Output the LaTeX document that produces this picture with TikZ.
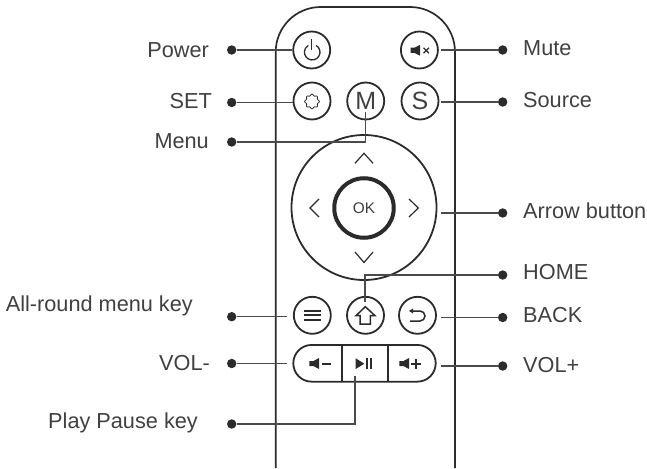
\documentclass[tikz,border=0pt]{standalone}
\usepackage{fontspec}
\setmainfont{Liberation Sans}
\definecolor{ink}{HTML}{2B2B2B}
\definecolor{lead}{HTML}{4A4A4A}
\definecolor{txt}{HTML}{404040}
\tikzset{
 lbl/.style={anchor=base west,inner sep=0pt,text=txt,font=\fontsize{21.7}{24}\selectfont},
 lblr/.style={anchor=base east,inner sep=0pt,text=txt,font=\fontsize{21.7}{24}\selectfont},
 dotnode/.style={circle,fill=ink,draw=none,minimum size=9.4pt,inner sep=0pt},
 btn/.style={circle,draw=ink,line width=1.8pt,minimum size=37pt,inner sep=0pt,text=txt,font=\fontsize{25}{28}\selectfont},
 leader/.style={draw=lead,line width=1.2pt},
 icon/.style={draw=ink,line width=1.5pt},
 iconfill/.style={fill=ink,draw=none},
}
\begin{document}
\begin{tikzpicture}[x=1pt,y=-1pt]
\useasboundingbox (0,0) rectangle (647,468);
% body
\draw[ink,line width=1.7pt] (275.7,468) -- (275.7,52) arc[start angle=180,end angle=270,radius=45] -- (410,7) arc[start angle=270,end angle=360,radius=45] -- (455,468);
% buttons
\node[btn] (bPower) at (311.7,50) {};
\node[btn] (bMute) at (419.4,50) {};
\node[btn] (bSet) at (312,101) {};
\node[btn] (bM) at (365.7,101) {M};
\node[btn] (bS) at (420,101) {S};
\node[circle,draw=ink,line width=1.8pt,minimum size=145pt,inner sep=0pt] (pad) at (364,207.5) {};
\node[circle,draw=ink,line width=4pt,minimum size=59.5pt,inner sep=0pt,text=txt,font=\fontsize{15.4}{18}\selectfont] (ok) at (364,208) {OK};
\node[btn] (bMenu) at (312.3,315.3) {};
\node[btn] (bHome) at (365.5,315.3) {};
\node[btn] (bBack) at (417.5,315.3) {};
\node[draw=ink,line width=1.8pt,rounded corners=18.3pt,minimum width=142.4pt,minimum height=36.7pt,inner sep=0pt] (pill) at (364.5,363.3) {};
\draw[ink,line width=2.2pt] (342.3,345) -- (342.3,381.7) (388,345) -- (388,381.7);
% icons
\draw[icon,line width=1.3pt] (316.1,45.4) arc[start angle=-60,end angle=240,radius=7.8];
\draw[icon,line width=1.3pt] (311.7,39.5) -- (311.7,50);
\fill[iconfill] (410.7,47.7) -- (414.5,47.7) -- (420,45) -- (420,55.7) -- (414.5,53) -- (410.7,53) -- cycle;
\draw[icon,line width=1.3pt] (423.6,47.8) -- (429,53.2) (429,47.8) -- (423.6,53.2);
\draw[ink,line width=.8pt] plot[smooth cycle,samples=48,domain=0:352.5,variable=\t] ({312+(6.6+0.8*cos(8*\t))*cos(\t)},{101.5+(6.6+0.8*cos(8*\t))*sin(\t)});
% arrows
\draw[ink,line width=1.2pt] (355,163.3) -- (364,153.3) -- (373,163.3);
\draw[ink,line width=1.2pt] (355,252) -- (364,262.5) -- (373,252);
\draw[ink,line width=1.2pt] (319,199) -- (310,208) -- (319,217);
\draw[ink,line width=1.2pt] (409,199) -- (418.3,208) -- (409,217);
% lower icons
\draw[ink,line width=1.8pt] (304,310.7) -- (320.5,310.7) (304,315.3) -- (320.5,315.3) (304,320) -- (320.5,320);
\draw[icon,line join=miter] (365.3,306.7) -- (375,315.7) -- (370.3,315.7) -- (370.3,324) -- (360,324) -- (360,315.7) -- (356,315.7) -- cycle;
\draw[icon] (411,311) -- (420,311) arc[start angle=-90,end angle=90,radius=5] -- (410,321);
\fill[iconfill] (409,311) -- (413,308.5) -- (413,313.5) -- cycle;
\fill[iconfill] (309.3,361) -- (313.5,361) -- (319,358) -- (319,369) -- (313.5,366) -- (309.3,366) -- cycle;
\draw[icon,line width=1.6pt] (322.3,363.7) -- (331,363.7);
\fill[iconfill] (355.7,358.3) -- (364.3,363.7) -- (355.7,369) -- cycle;
\draw[icon,line width=1.7pt] (366.9,358.3) -- (366.9,369) (371,358.3) -- (371,369);
\fill[iconfill] (399.3,361) -- (403.5,361) -- (409,358) -- (409,369) -- (403.5,366) -- (399.3,366) -- cycle;
\draw[icon,line width=1.6pt] (411.2,364) -- (420.6,364) (415.9,359.3) -- (415.9,368.7);
% dots
\node[dotnode] (dPower) at (231.7,50) {};
\node[dotnode] (dSet) at (231.7,102.5) {};
\node[dotnode] (dMenu) at (231.7,142) {};
\node[dotnode] (dRound) at (231.7,316.7) {};
\node[dotnode] (dVolm) at (231.7,363.5) {};
\node[dotnode] (dPlay) at (231.7,424) {};
\node[dotnode] (dMute) at (502.7,50) {};
\node[dotnode] (dSource) at (502.7,102) {};
\node[dotnode] (dArrow) at (502.7,213) {};
\node[dotnode] (dHome) at (502.7,275) {};
\node[dotnode] (dBack) at (502.7,317.5) {};
\node[dotnode] (dVolp) at (502.7,366) {};
% leader ends
\coordinate (eMenu) at (365.7,112);
\coordinate (eMute) at (440.5,50);
\coordinate (eSource) at (441,102);
\coordinate (eArrow) at (441,213);
\coordinate (eHome) at (365,301.7);
\coordinate (eBack) at (441,317.5);
\coordinate (eVolp) at (441,366);
\coordinate (eRound) at (287.3,316.7);
\coordinate (eVolm) at (287.3,363.5);
\coordinate (ePlay) at (355,375.7);
% leaders
\draw[leader] (dPower) -- (bPower.west);
\draw[leader] (dSet) -- (bSet.west |- dSet);
\draw[leader] (dMenu) -| (eMenu);
\draw[leader] (dRound) -- (eRound);
\draw[leader] (dVolm) -- (eVolm);
\draw[leader] (dPlay) -| (ePlay);
\draw[leader] (dMute) -- (eMute);
\draw[leader] (dSource) -- (eSource);
\draw[leader] (dArrow) -- (eArrow);
\draw[leader] (dHome) -| (eHome);
\draw[leader] (dBack) -- (eBack);
\draw[leader] (dVolp) -- (eVolp);
% labels
\node[lblr] (tPower) at (209,57.5) {Power};
\node[lblr] (tSet) at (212,109) {SET};
\node[lblr] (tMenu) at (209,148) {Menu};
\node[lblr] (tRound) at (193,311) {All-round menu key};
\node[lblr] (tVolm) at (210,370) {VOL-};
\node[lblr] (tPlay) at (198,428) {Play Pause key};
\node[lbl] (tMute) at (523,55.5) {Mute};
\node[lbl] (tSource) at (523,108) {Source};
\node[lbl] (tArrow) at (523,218) {Arrow button};
\node[lbl] (tHome) at (523,279) {HOME};
\node[lbl] (tBack) at (523,322) {BACK};
\node[lbl] (tVolp) at (523,372) {VOL+};
\end{tikzpicture}
\end{document}
